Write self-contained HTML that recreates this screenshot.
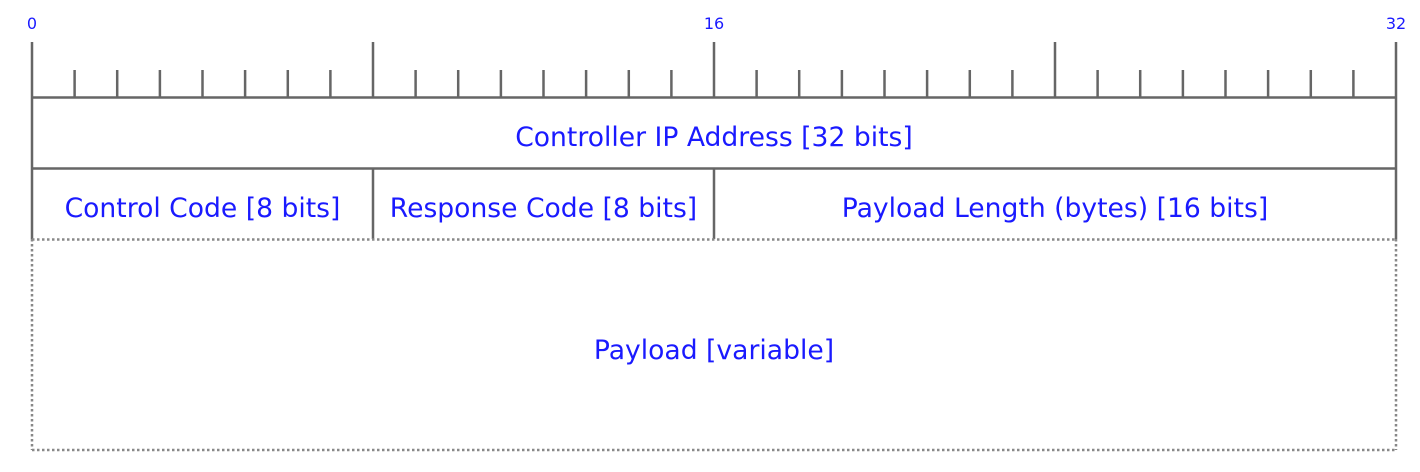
<!DOCTYPE html>
<html><head><style>html,body{margin:0;padding:0;background:#fff;}svg{display:block}</style></head><body>
<svg width="1420" height="472" viewBox="0 0 1420 472" xmlns="http://www.w3.org/2000/svg">
<g stroke="#666" stroke-width="2.5" fill="none">
<path d="
M32 42V97 M74.6 70V97 M117.2 70V97 M159.9 70V97 M202.5 70V97 M245.1 70V97 M287.8 70V97 M330.4 70V97
M373 42V97 M415.6 70V97 M458.2 70V97 M500.9 70V97 M543.5 70V97 M586.1 70V97 M628.8 70V97 M671.4 70V97
M714 42V97 M756.6 70V97 M799.2 70V97 M841.9 70V97 M884.5 70V97 M927.1 70V97 M969.8 70V97 M1012.4 70V97
M1055 42V97 M1097.6 70V97 M1140.2 70V97 M1182.9 70V97 M1225.5 70V97 M1268.1 70V97 M1310.8 70V97 M1353.4 70V97
M1396 42V97"/>
<path d="M32 97.5H1396 M32 168.5H1396 M32 97V239 M1396 97V239 M373 168V239 M714 168V239"/>
</g>
<g stroke="#888" stroke-width="2.5" fill="none" stroke-dasharray="2.5 2.5">
<path d="M32 239.5H1396 M32 450H1396 M32 239V450 M1396 239V450"/>
</g>
<g font-family="DejaVu Sans, sans-serif" fill="#1a1aff" text-anchor="middle">
<text x="32" y="29" font-size="16">0</text>
<text x="714" y="29" font-size="16">16</text>
<text x="1396" y="29" font-size="16">32</text>
<text x="714" y="146" font-size="26.6">Controller IP Address [32 bits]</text>
<text x="202.5" y="217" font-size="26.6">Control Code [8 bits]</text>
<text x="543.5" y="217" font-size="26.6">Response Code [8 bits]</text>
<text x="1055" y="217" font-size="26.6">Payload Length (bytes) [16 bits]</text>
<text x="714" y="359" font-size="26.6">Payload [variable]</text>
</g>
</svg>
</body></html>
